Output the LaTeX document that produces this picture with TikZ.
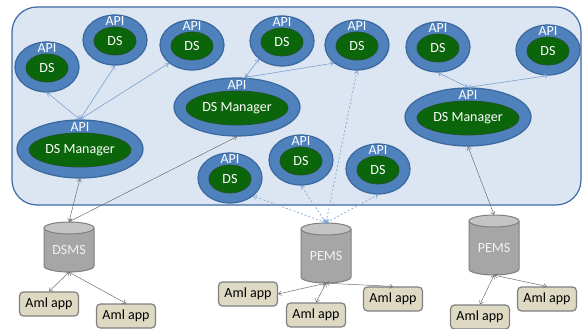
\documentclass[tikz,border=0pt]{standalone}
\usepackage{fontspec}
\setmainfont{Carlito}
\usetikzlibrary{shapes.geometric,arrows.meta}

\definecolor{panelfill}{HTML}{DCE6F2}
\definecolor{panelline}{HTML}{3E6AA6}
\definecolor{ringfill}{HTML}{4F81BD}
\definecolor{ringline}{HTML}{3A679E}
\definecolor{corefill}{HTML}{0B660B}
\definecolor{coreline}{HTML}{245224}
\definecolor{linkblue}{HTML}{7BA0CF}
\definecolor{linkgray}{HTML}{6E6E6E}
\definecolor{cylbody}{HTML}{A6A6A6}
\definecolor{cyltop}{HTML}{C4C4C4}
\definecolor{cylline}{HTML}{7F7F7F}
\definecolor{appfill}{HTML}{DDD9C3}
\definecolor{appline}{HTML}{7F7F7F}

\tikzset{
  x=1pt, y=-1pt,
  every node/.style={font=\fontsize{14}{16}\selectfont, inner sep=0pt},
  ring/.style={ellipse, fill=ringfill, draw=ringline, line width=1.2pt},
  core/.style={ellipse, fill=corefill, draw=coreline, line width=0.8pt, text=white},
  dsring/.style={ring, minimum width=64pt, minimum height=50pt},
  dscore/.style={core, minimum width=42pt, minimum height=28pt},
  mgrring/.style={ring, minimum width=126pt, minimum height=58pt},
  mgrcore/.style={core, minimum width=102pt, minimum height=34pt},
  apilabel/.style={text=white},
  cylbox/.style={rectangle, minimum width=50pt},
  cyllabel/.style={text=white!95!black},
  appbox/.style={rectangle, rounded corners=4pt, fill=appfill, draw=appline,
                 line width=1.2pt, minimum width=59pt, minimum height=24pt},
  tip/.style={>={Straight Barb[length=3pt,width=4.5pt]}},
  bluelink/.style={tip, <->, draw=linkblue, line width=0.6pt},
  dashlink/.style={tip, <->, draw=linkblue, line width=0.6pt, dash pattern=on 2pt off 2pt},
  graylink/.style={tip, <->, draw=linkgray, line width=0.5pt},
}

% data store: ring with API label and green core
\newcommand\dsunit[3]{%
  \node[dsring] (#1) at (#2,#3) {};
  \node[dscore] (#1core) at (#2,#3+1) {DS};
  \node[apilabel] at (#2,#3-19) {API};
}
% data store manager
\newcommand\mgrunit[3]{%
  \node[mgrring] (#1) at (#2,#3) {};
  \node[mgrcore] (#1core) at (#2,#3+1) {DS Manager};
  \node[apilabel] at (#2,#3-22) {API};
}
% database cylinder: name, x, top-ellipse y, bottom-ellipse y, label
\newcommand\dbunit[5]{%
  \fill[cylbody] (#2-25,#3) -- (#2-25,#4)
     arc[start angle=180, end angle=0, x radius=25, y radius=6] -- (#2+25,#3) -- cycle;
  \draw[cylline, line width=1pt] (#2-25,#3) -- (#2-25,#4)
     arc[start angle=180, end angle=0, x radius=25, y radius=6] -- (#2+25,#3);
  \draw[cylline, fill=cyltop, line width=1pt] (#2,#3) ellipse[x radius=25, y radius=6];
  \node[cylbox, minimum height=#4-#3+12pt] (#1) at (#2,{(#3+#4)/2}) {};
  \node[cyllabel] at (#2,{(#3+#4)/2+3}) {#5};
}

\begin{document}
\begin{tikzpicture}
\useasboundingbox (0,0) rectangle (586,329);

% shared panel holding the data stores
\draw[fill=panelfill, draw=panelline, line width=1.2pt, rounded corners=25pt]
  (12,7) rectangle (581,205);

\dsunit{ds1}{47}{67}
\dsunit{ds2}{115}{40}
\dsunit{ds3}{192}{45}
\dsunit{ds4}{282}{41}
\dsunit{ds5}{357}{45}
\dsunit{ds6}{438}{47}
\dsunit{ds7}{548}{50}
\dsunit{ds8}{230}{178}
\dsunit{ds9}{301}{160}
\dsunit{ds10}{378}{169}

\mgrunit{mgrA}{80}{149}
\mgrunit{mgrB}{237}{107}
\mgrunit{mgrC}{468}{117}

\dbunit{dsms}{69}{228}{266}{DSMS}
\dbunit{pemsA}{326}{229}{277}{PEMS}
\dbunit{pemsB}{494}{221}{269}{PEMS}

\node[appbox] (app1) at (49,304) {Aml app};
\node[appbox] (app2) at (126,316) {Aml app};
\node[appbox] (app3) at (248,294) {Aml app};
\node[appbox] (app4) at (316,315) {Aml app};
\node[appbox] (app5) at (393,299) {Aml app};
\node[appbox] (app6) at (480,317) {Aml app};
\node[appbox] (app7) at (547,299) {Aml app};

% managers to their data stores
\draw[bluelink] (mgrA.north) -- (ds1.south);
\draw[bluelink] (mgrA.north) -- (ds2.south);
\draw[bluelink] (mgrA.north) -- (ds3.south west);
\draw[bluelink] ([xshift=8pt]mgrB.north) -- (ds4.south west);
\draw[bluelink] ([xshift=8pt]mgrB.north) -- (ds5.south west);
\draw[bluelink] (mgrC.north) -- (ds6.south);
\draw[bluelink] (mgrC.north) -- (ds7.south);

% database links
\draw[graylink] (dsms.north) -- (mgrA.south);
\draw[graylink] (dsms.north) -- (mgrB.south);
\draw[graylink] (pemsB.north) -- (mgrC.south);

\draw[dashlink] (pemsA.north) -- (ds8.south east);
\draw[dashlink] (pemsA.north) -- (ds9.south);
\draw[dashlink] (pemsA.north) -- (ds10.south);
\draw[dashlink] (pemsA.north) -- (ds5.south);

% applications
\draw[graylink] (dsms.south) -- (app1.north);
\draw[graylink] (dsms.south) -- (app2.north);
\draw[graylink] (pemsA.south) -- (app3.east);
\draw[graylink] (pemsA.south) -- (app4.north);
\draw[graylink] (pemsA.south) -- (app5.north);
\draw[graylink] (pemsB.south) -- (app6.north);
\draw[graylink] (pemsB.south) -- (app7.north);
\end{tikzpicture}
\end{document}
